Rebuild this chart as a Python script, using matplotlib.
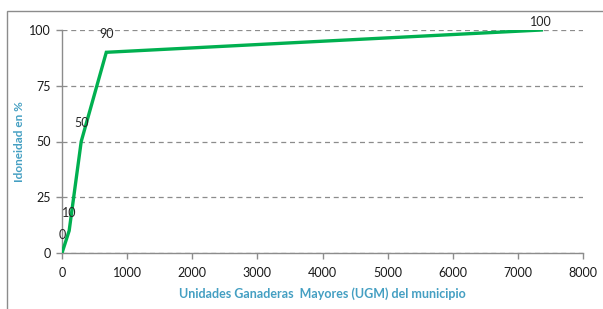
import matplotlib
matplotlib.use("Agg")
import matplotlib.pyplot as plt
from matplotlib.patches import Rectangle

ugm = [0, 110, 295, 680, 7360]
idoneidad = [0, 10, 50, 90, 100]
point_labels = ["0", "10", "50", "90", "100"]
label_offsets = [13, 13, 13, 13, 6]
x_ticks = [0, 1000, 2000, 3000, 4000, 5000, 6000, 7000, 8000]
y_ticks = [0, 25, 50, 75, 100]

plt.rcParams['font.family'] = ['Lato', 'DejaVu Sans']

fig = plt.figure(figsize=(6.03, 3.09), dpi=100)
ax = fig.add_axes([62/603, 1-253/309, (583-62)/603, (253-30)/309])

# outer chart frame
fig.patches.append(Rectangle((7/603, -0.1), 1.2, 1-11/309+0.1, transform=fig.transFigure,
                             fill=False, edgecolor='#8c8c8c', linewidth=1.0))

ax.plot(ugm, idoneidad, color='#00B050', linewidth=2.4, solid_joinstyle='miter', zorder=3)
for x, y, t, off in zip(ugm, idoneidad, point_labels, label_offsets):
    ax.annotate(t, (x, y), xytext=(0, off), textcoords='offset points',
                ha='center', va='center', fontsize=9, color='#262626')

ax.set_xlim(0, 8000)
ax.set_ylim(0, 100)
ax.set_xticks(x_ticks)
ax.set_yticks(y_ticks)
ax.tick_params(axis='both', labelsize=9, colors='#8c8c8c', labelcolor='#1a1a1a', length=4, width=1)
ax.tick_params(axis='x', pad=6)
ax.tick_params(axis='y', pad=4)
ax.yaxis.grid(True, linestyle=(0, (4, 3)), color='#8c8c8c', linewidth=0.9)
ax.set_axisbelow(True)
for s in ['top', 'right']:
    ax.spines[s].set_visible(False)
for s in ['left', 'bottom']:
    ax.spines[s].set_color('#8c8c8c')
    ax.spines[s].set_linewidth(1.0)

ax.set_xlabel('Unidades Ganaderas  Mayores (UGM) del municipio', fontsize=9,
              fontweight='bold', color='#449FC2', labelpad=6)
ax.set_ylabel('Idoneidad en %', fontsize=8.5, fontweight='bold', color='#449FC2', labelpad=3)

fig.savefig('out.png', dpi=100)
